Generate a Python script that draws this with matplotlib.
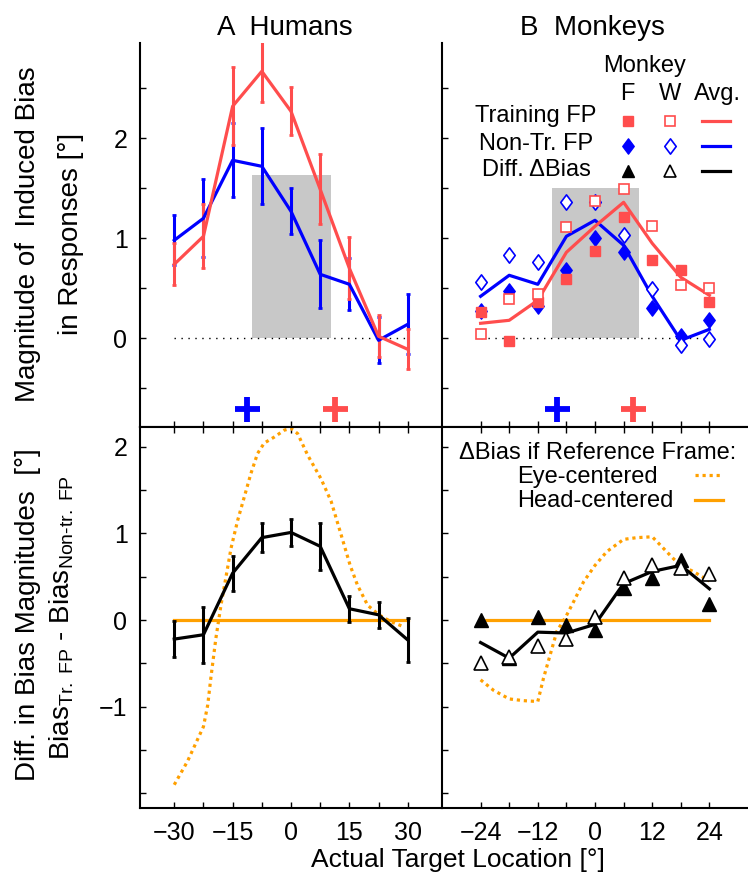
import numpy as np
import matplotlib
matplotlib.use("Agg")
import matplotlib.pyplot as plt
from matplotlib.path import Path

plt.rcParams['font.family'] = ['Liberation Sans', 'DejaVu Sans']
plt.rcParams['mathtext.fontset'] = 'custom'
plt.rcParams['mathtext.rm'] = 'Liberation Sans'
plt.rcParams['mathtext.it'] = 'Liberation Sans'

RED = '#ff4d4d'
BLUE = '#0000ff'
ORANGE = '#ffa000'
GRAY = '#c8c8c8'

# ---- Humans (panel A) ----
x_h = [-30, -22.5, -15, -7.5, 0, 7.5, 15, 22.5, 30]
h_train = [0.74, 1.02, 2.32, 2.67, 2.27, 1.49, 0.70, 0.02, -0.11]
h_train_err = [0.21, 0.32, 0.39, 0.31, 0.24, 0.35, 0.31, 0.21, 0.20]
h_nontr = [0.98, 1.20, 1.78, 1.72, 1.27, 0.64, 0.54, -0.02, 0.14]
h_nontr_err = [0.25, 0.39, 0.37, 0.38, 0.23, 0.34, 0.26, 0.23, 0.30]
h_diff = [-0.22, -0.17, 0.54, 0.95, 1.01, 0.85, 0.13, 0.06, -0.23]
h_diff_err = [0.21, 0.32, 0.20, 0.17, 0.16, 0.27, 0.15, 0.15, 0.25]
h_box = [-10.0, 10.3, 1.63]
h_fp_x = [-11.3, 11.3]
fp_y = -0.71

eye_h_x = [-30, -26.6, -22.5, -21.4, -20.6, -19.3, -18, -16.3, -15.4, -13.7,
           -12, -10.3, -8.6, -6.9, -4.3, -1.7, 0, 1.7, 4.3, 7.7, 10.3, 12.9,
           15.2, 17.1, 19.7, 22.6, 25.7, 29.1]
eye_h_y = [-1.90, -1.63, -1.23, -0.98, -0.67, -0.21, 0.17, 0.60, 0.83, 1.15,
           1.42, 1.69, 1.92, 2.04, 2.11, 2.19, 2.21, 2.15, 1.90, 1.63, 1.37,
           0.98, 0.63, 0.40, 0.17, 0.06, -0.02, -0.08]

# ---- Monkeys (panel B) ----
x_m = [-24, -18, -12, -6, 0, 6, 12, 18, 24]
f_train = [0.26, -0.03, 0.36, 0.59, 0.87, 1.21, 0.78, 0.68, 0.36]
w_train = [0.04, 0.39, 0.44, 1.11, 1.37, 1.49, 1.12, 0.53, 0.50]
avg_train = [0.15, 0.18, 0.38, 0.86, 1.12, 1.36, 0.95, 0.61, 0.43]
f_nontr = [0.27, 0.47, 0.32, 0.68, 1.00, 0.86, 0.30, 0.02, 0.18]
w_nontr = [0.56, 0.83, 0.76, 1.36, 1.36, 1.03, 0.49, -0.07, -0.01]
avg_nontr = [0.42, 0.63, 0.54, 1.02, 1.18, 0.93, 0.42, -0.02, 0.09]
f_diff = [0.00, -0.44, 0.04, -0.06, -0.12, 0.37, 0.49, 0.69, 0.19]
w_diff = [-0.49, -0.43, -0.30, -0.22, 0.03, 0.49, 0.64, 0.60, 0.53]
avg_diff = [-0.26, -0.44, -0.14, -0.15, -0.05, 0.42, 0.56, 0.63, 0.36]
m_box = [-9.1, 9.2, 1.5]
m_fp_x = [-8, 8]

eye_m_x = [-24, -21.3, -18, -15, -12, -10.8, -9.4, -8.0, -6.1, -4.5, -2.4,
           0, 2.5, 6, 8.8, 12, 13.6, 16.4, 18, 20.6, 24]
eye_m_y = [-0.69, -0.81, -0.91, -0.93, -0.94, -0.67, -0.40, -0.13, 0.04, 0.21,
           0.44, 0.63, 0.79, 0.93, 0.95, 0.96, 0.87, 0.71, 0.63, 0.56, 0.45]

# tall diamond marker
diamond = Path([(0, 1), (0.75, 0), (0, -1), (-0.75, 0), (0, 1)],
               [Path.MOVETO, Path.LINETO, Path.LINETO, Path.LINETO, Path.CLOSEPOLY])

fig = plt.figure(figsize=(7.48, 8.76), dpi=100)
W, H = 748.0, 876.0
xl, xr, xe = 140 / W, 442 / W, 748 / W
ax_tl = fig.add_axes([xl, 1 - 427 / H, xr - xl, 384 / H])
ax_tr = fig.add_axes([xr, 1 - 427 / H, xe - xr, 384 / H])
ax_bl = fig.add_axes([xl, 1 - 808 / H, xr - xl, 381 / H])
ax_br = fig.add_axes([xr, 1 - 808 / H, xe - xr, 381 / H])

top_ylim = (-0.887, 2.953)
bot_ylim = (-2.168, 2.226)


def style(ax, top, left):
    for s in ax.spines.values():
        s.set_linewidth(1.5)
    ax.spines['right'].set_visible(False)
    ax.spines['top'].set_visible(not top)
    ax.tick_params(direction='in', length=4, width=1, labelsize=18, pad=9,
                   top=not top, right=False)
    if top:
        ax.set_ylim(*top_ylim)
        ax.set_yticks(np.arange(-0.5, 2.51, 0.5))
        lab = {0.0: '0', 1.0: '1', 2.0: '2'}
    else:
        ax.set_ylim(*bot_ylim)
        ax.set_yticks(np.arange(-2, 2.01, 0.5))
        lab = {-1.0: '\u22121', 0.0: '0', 1.0: '1', 2.0: '2'}
    if left:
        ax.set_yticklabels([lab.get(round(t, 1), '') for t in ax.get_yticks()])
    else:
        ax.set_yticklabels([])


# ---------- A top ----------
ax = ax_tl
ax.set_xlim(-38.8, 38.8)
ax.bar((h_box[0] + h_box[1]) / 2, h_box[2], width=h_box[1] - h_box[0],
       color=GRAY, zorder=0)
ax.plot([x_h[0], x_h[-1]], [0, 0], ls=(0, (1, 4)), color='k', lw=1)
ax.errorbar(x_h, h_nontr, yerr=h_nontr_err, color=BLUE, lw=2.3, elinewidth=2.2,
            capsize=1.5, capthick=2)
ax.errorbar(x_h, h_train, yerr=h_train_err, color=RED, lw=2.3, elinewidth=2.2,
            capsize=1.5, capthick=2)
ax.plot(h_fp_x[0], fp_y, '+', color=BLUE, ms=18, mew=4.2)
ax.plot(h_fp_x[1], fp_y, '+', color=RED, ms=18, mew=4.2)
ax.set_xticks(x_h)
ax.set_xticklabels([])
style(ax, True, True)

# ---------- B top ----------
ax = ax_tr
ax.set_xlim(-32.1, 32.1)
ax.bar((m_box[0] + m_box[1]) / 2, m_box[2], width=m_box[1] - m_box[0],
       color=GRAY, zorder=0)
ax.plot([x_m[0], x_m[-1]], [0, 0], ls=(0, (1, 4)), color='k', lw=1)
ax.plot(x_m, avg_nontr, color=BLUE, lw=2.3)
ax.plot(x_m, avg_train, color=RED, lw=2.3)
ax.plot(x_m, f_nontr, ls='none', marker=diamond, ms=11, color=BLUE)
ax.plot(x_m, w_nontr, ls='none', marker=diamond, ms=11, mfc='white', mec=BLUE, mew=1.2)
ax.plot(x_m, f_train, ls='none', marker='s', ms=7.5, color=RED)
ax.plot(x_m, w_train, ls='none', marker='s', ms=7.5, mfc='white', mec=RED, mew=1.2)
ax.plot(m_fp_x[0], fp_y, '+', color=BLUE, ms=18, mew=4.2)
ax.plot(m_fp_x[1], fp_y, '+', color=RED, ms=18, mew=4.2)
ax.set_xticks(x_m)
ax.set_xticklabels([])
style(ax, True, False)

# legend block
tr = ax.transAxes
ax.text(0.663, 0.924, 'Monkey', transform=tr, ha='center', va='baseline', fontsize=17)
for fx, s in zip([0.607, 0.745, 0.901], ['F', 'W', 'Avg.']):
    ax.text(fx, 0.852, s, transform=tr, ha='center', va='baseline', fontsize=17)
rows = ['Training FP', 'Non-Tr. FP', 'Diff. \u0394Bias']
for fy, s in zip([0.793, 0.721, 0.654], rows):
    ax.text(0.307, fy, s, transform=tr, ha='center', va='baseline', fontsize=17)
ax.plot(0.607, 0.797, 's', ms=7.5, color=RED, transform=tr, clip_on=False)
ax.plot(0.745, 0.797, 's', ms=7.5, mfc='white', mec=RED, mew=1.2, transform=tr, clip_on=False)
ax.plot([0.849, 0.941], [0.797, 0.797], color=RED, lw=2.3, transform=tr)
ax.plot(0.607, 0.731, marker=diamond, ms=11, color=BLUE, transform=tr, clip_on=False)
ax.plot(0.745, 0.731, marker=diamond, ms=11, mfc='white', mec=BLUE, mew=1.2, transform=tr, clip_on=False)
ax.plot([0.849, 0.941], [0.731, 0.731], color=BLUE, lw=2.3, transform=tr)
ax.plot(0.607, 0.667, '^', ms=9, color='k', transform=tr, clip_on=False)
ax.plot(0.745, 0.667, '^', ms=9, mfc='white', mec='k', mew=1.2, transform=tr, clip_on=False)
ax.plot([0.849, 0.941], [0.667, 0.667], color='k', lw=2.3, transform=tr)

# ---------- A bottom ----------
ax = ax_bl
ax.set_xlim(-38.8, 38.8)
ax.plot([x_h[0], x_h[-1]], [0, 0], color=ORANGE, lw=2.3)
ax.plot(eye_h_x, eye_h_y, color=ORANGE, lw=2.3, ls=(0, (1, 1.2)), clip_on=False)
ax.errorbar(x_h, h_diff, yerr=h_diff_err, color='k', lw=2.3, elinewidth=2.2,
            capsize=1.5, capthick=2)
ax.set_xticks(x_h)
ax.set_xticklabels(['\u221230', '', '\u221215', '', '0', '', '15', '', '30'])
style(ax, False, True)

# ---------- B bottom ----------
ax = ax_br
ax.set_xlim(-32.1, 32.1)
ax.plot([x_m[0], x_m[-1]], [0, 0], color=ORANGE, lw=2.3)
ax.plot(eye_m_x, eye_m_y, color=ORANGE, lw=2.3, ls=(0, (1, 1.2)))
ax.plot(x_m, avg_diff, color='k', lw=2.3)
ax.plot(x_m, f_diff, ls='none', marker='^', ms=10, color='k')
ax.plot(x_m, w_diff, ls='none', marker='^', ms=10, mfc='white', mec='k', mew=1.2)
ax.set_xticks(x_m)
ax.set_xticklabels(['\u221224', '', '\u221212', '', '0', '', '12', '', '24'])
style(ax, False, False)

tr = ax.transAxes
ax.text(0.507, 0.915, '\u0394Bias if Reference Frame:', transform=tr, ha='center',
        va='baseline', fontsize=17)
ax.text(0.245, 0.854, 'Eye-centered', transform=tr, ha='left', va='baseline', fontsize=17)
ax.text(0.245, 0.791, 'Head-centered', transform=tr, ha='left', va='baseline', fontsize=17)
ax.plot([0.827, 0.918], [0.874, 0.874], color=ORANGE, lw=2.3, ls=(0, (1, 1.2)), transform=tr)
ax.plot([0.827, 0.918], [0.808, 0.808], color=ORANGE, lw=2.3, transform=tr)

# ---------- titles and labels ----------
fig.text(284.5 / W, 1 - 35 / H, 'A  Humans', ha='center', va='baseline', fontsize=20)
fig.text(592 / W, 1 - 35 / H, 'B  Monkeys', ha='center', va='baseline', fontsize=20)
fig.text(28.5 / W, 1 - 234 / H, 'Magnitude of  Induced Bias', rotation=90,
         ha='center', va='center', fontsize=20)
fig.text(71 / W, 1 - 234 / H, 'in Responses [\u00b0]', rotation=90,
         ha='center', va='center', fontsize=20)
fig.text(28.5 / W, 1 - 615 / H, 'Diff. in Bias Magnitudes  [\u00b0]', rotation=90,
         ha='center', va='center', fontsize=20)
fig.text(62 / W, 1 - 618 / H,
         r'$\mathrm{Bias}_{\mathrm{Tr.\ FP}}\ \text{-}\ \mathrm{Bias}_{\mathrm{Non\text{-}tr.\ FP}}$',
         rotation=90, ha='center', va='center', fontsize=20)
fig.text(458 / W, 1 - 860 / H, 'Actual Target Location [\u00b0]', ha='center',
         va='center', fontsize=19)

fig.savefig('out.png', dpi=100)
